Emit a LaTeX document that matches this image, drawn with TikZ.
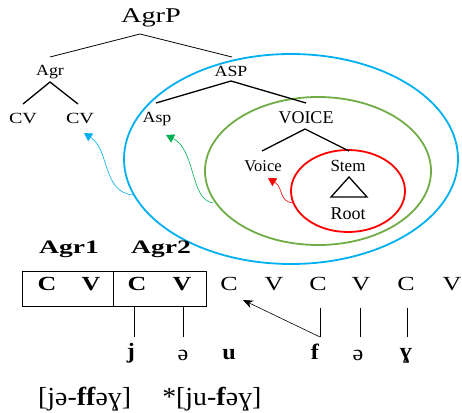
\documentclass[tikz,border=0pt]{standalone}
\usepackage{fontspec}
\setmainfont{Liberation Serif}
\newfontfamily\wideA[FakeStretch=1.35]{Liberation Serif}
\newfontfamily\wideB[FakeStretch=1.15]{Liberation Serif}
\newfontfamily\wideC[FakeStretch=1.3]{Liberation Serif}
\newfontfamily\wideD[FakeStretch=1.45]{Liberation Serif}
\newfontfamily\wideE[FakeStretch=1.07]{Liberation Serif}
\newfontfamily\wideF[FakeStretch=1.1]{Liberation Serif}
\usetikzlibrary{arrows.meta}
\definecolor{cblue}{HTML}{00B0F0}
\definecolor{cgreen}{HTML}{70AD47}
\definecolor{cgarrow}{HTML}{00B050}
\definecolor{cred}{HTML}{FF0000}
\tikzset{
  lbl/.style 2 args={inner sep=0pt, font=#2\fontsize{#1}{#1}\selectfont},
  blbl/.style 2 args={inner sep=0pt, font=#2\fontsize{#1}{#1}\selectfont\bfseries},
  branch/.style={line width=1.3pt},
  thinline/.style={line width=0.8pt},
  curvearrow/.style={line width=0.6pt, -{Triangle[length=8pt,width=9pt]}},
}
\begin{document}
\begin{tikzpicture}[x=1pt,y=-1pt]
\useasboundingbox (0,0) rectangle (462,412);
% ellipses
\draw[cblue, line width=1.8pt] (291,159) ellipse [x radius=167pt, y radius=105pt];
\draw[cgreen, line width=1.8pt] (318,171) ellipse [x radius=113pt, y radius=74pt];
\draw[cred, line width=1.8pt] (348,191) ellipse [x radius=57pt, y radius=41pt];
% tree nodes
\node[lbl={21}{\wideA}] (agrp) at (151,18) {AgrP};
\node[lbl={15.5}{\wideB}] (agr) at (50,72) {Agr};
\node[lbl={15.5}{\wideC}] (cv1) at (23,118) {CV};
\node[lbl={15.5}{\wideC}] (cv2) at (80,118) {CV};
\node[lbl={15.5}{\wideB}] (asp) at (231,71) {ASP};
\node[lbl={15.5}{\wideB}] (asplow) at (157,119) {Asp};
\node[lbl={18}{\rmfamily}] (voice) at (306,118) {VOICE};
\node[lbl={16.5}{\rmfamily}] (voicelow) at (263,166) {Voice};
\node[lbl={17}{\rmfamily}] (stem) at (348,166) {Stem};
\node[lbl={18}{\rmfamily}] (root) at (348,214) {Root};
% branch points
\coordinate (agrpT) at (140,34);
\coordinate (agrpL) at (50,57);
\coordinate (agrpR) at (232,57);
\coordinate (agrT) at (50,82);
\coordinate (agrL) at (23,104);
\coordinate (agrR) at (78,104);
\coordinate (aspT) at (231,81);
\coordinate (aspL) at (156,103);
\coordinate (aspR) at (306,103);
\coordinate (voiceT) at (305,129);
\coordinate (voiceL) at (262,151);
\coordinate (voiceR) at (349,151);
\draw[thinline] (agrpL) -- (agrpT) -- (agrpR);
\draw[branch] (agrL) -- (agrT) -- (agrR);
\draw[branch] (aspL) -- (aspT) -- (aspR);
\draw[branch] (voiceL) -- (voiceT) -- (voiceR);
% triangle
\coordinate (triA) at (349,177);
\coordinate (triB) at (331,197);
\coordinate (triC) at (367,197);
\draw[line width=1.3pt] (triA) -- (triB) -- (triC) -- cycle;
% curved arrows
\coordinate (bstart) at (133,195);
\coordinate (bend) at (84,133);
\draw[cblue, curvearrow] (bstart) .. controls (102,192) and (110,150) .. (bend);
\coordinate (gstart) at (213,203);
\coordinate (gend) at (166,135);
\draw[cgarrow, curvearrow] (gstart) .. controls (190,200) and (196,150) .. (gend);
\coordinate (rstart) at (293,203);
\coordinate (rend) at (268,178);
\draw[cred, curvearrow] (rstart) .. controls (278,201) and (284,188) .. (rend);
% bottom skeleton
\node[blbl={19}{\wideD}] (agr1) at (69,249) {Agr1};
\node[blbl={19}{\wideD}] (agr2) at (161,249) {Agr2};
\coordinate (boxTL) at (22,271);
\coordinate (boxBR) at (206,306);
\coordinate (divT) at (113,271);
\coordinate (divB) at (113,306);
\draw[thinline] (boxTL) rectangle (boxBR);
\draw[thinline] (divT) -- (divB);
\node[blbl={20}{\wideC}] (c1) at (47,284) {C};
\node[blbl={20}{\wideC}] (v1) at (91,284) {V};
\node[blbl={20}{\wideC}] (c2) at (137,284) {C};
\node[blbl={20}{\wideC}] (v2) at (182,284) {V};
\node[lbl={20}{\wideC}] (c3) at (229,284) {C};
\node[lbl={20}{\wideC}] (v3) at (274,284) {V};
\node[lbl={20}{\wideC}] (c4) at (318,284) {C};
\node[lbl={20}{\wideC}] (v4) at (361,284) {V};
\node[lbl={20}{\wideC}] (c5) at (406,284) {C};
\node[lbl={20}{\wideC}] (v5) at (452,284) {V};
% melody
\node[blbl={22}{\wideF}] (mj) at (131,353) {j};
\node[lbl={22}{\wideF}] (mschwa1) at (183,355) {ə};
\node[blbl={22}{\wideF}] (mu) at (229,355) {u};
\node[blbl={22}{\wideF}] (mf) at (315,352) {f};
\node[lbl={22}{\wideF}] (mschwa2) at (358,355) {ə};
\node[blbl={22}{\wideF}] (mgamma) at (406,356) {ɣ};
% association lines
\coordinate (l1a) at (134,307); \coordinate (l1b) at (134,337);
\coordinate (l2a) at (183,307); \coordinate (l2b) at (183,337);
\coordinate (l3a) at (320,308); \coordinate (l3b) at (320,337);
\coordinate (l4a) at (360,308); \coordinate (l4b) at (360,337);
\coordinate (l5a) at (407,308); \coordinate (l5b) at (407,337);
\draw[thinline] (l1a) -- (l1b);
\draw[thinline] (l2a) -- (l2b);
\draw[thinline] (l3a) -- (l3b);
\draw[thinline] (l4a) -- (l4b);
\draw[thinline] (l5a) -- (l5b);
\coordinate (arrEnd) at (243,300);
\draw[line width=0.6pt, -{Stealth[length=10pt,width=8pt]}] (l3b) -- (arrEnd);
% bottom forms
\node[lbl={26}{\wideE}, anchor=base west] (forms) at (38,405) {[jə-\textbf{ff}əɣ]\hspace{1.2em}*[ju-\textbf{f}əɣ]};
\end{tikzpicture}
\end{document}
